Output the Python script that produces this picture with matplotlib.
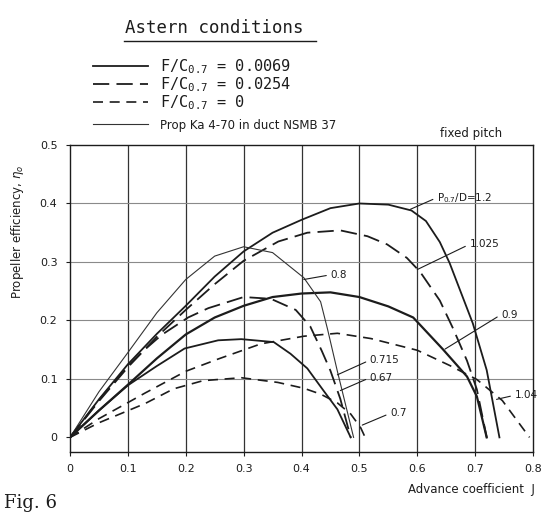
import matplotlib
matplotlib.use("Agg")
import matplotlib.pyplot as plt
from matplotlib.lines import Line2D

# pitch ratio P0.7/D = 1.2 (solid)
j_12 = [0, 0.05, 0.1, 0.15, 0.2, 0.25, 0.3, 0.35, 0.4, 0.45, 0.5, 0.55, 0.59, 0.615, 0.639, 0.656, 0.696, 0.72, 0.742]
eta_12 = [0, 0.065, 0.125, 0.177, 0.225, 0.275, 0.318, 0.35, 0.372, 0.392, 0.40, 0.398, 0.388, 0.37, 0.334, 0.298, 0.195, 0.115, 0.0]

# 1.025 (long dash)
j_1025 = [0, 0.05, 0.1, 0.15, 0.2, 0.25, 0.3, 0.36, 0.41, 0.467, 0.514, 0.548, 0.582, 0.605, 0.639, 0.662, 0.686, 0.703, 0.72]
eta_1025 = [0, 0.062, 0.12, 0.172, 0.218, 0.262, 0.302, 0.335, 0.35, 0.354, 0.344, 0.33, 0.307, 0.283, 0.234, 0.186, 0.131, 0.082, 0.0]

# 0.9 (solid, heavy)
j_09 = [0, 0.05, 0.1, 0.15, 0.2, 0.25, 0.3, 0.35, 0.4, 0.45, 0.5, 0.55, 0.593, 0.644, 0.686, 0.703, 0.72]
eta_09 = [0, 0.046, 0.09, 0.135, 0.176, 0.205, 0.225, 0.24, 0.246, 0.248, 0.24, 0.224, 0.205, 0.151, 0.104, 0.07, 0.0]

# 0.8 (thin)
j_08 = [0, 0.05, 0.1, 0.15, 0.2, 0.25, 0.3, 0.35, 0.404, 0.433, 0.445, 0.462, 0.49]
eta_08 = [0, 0.078, 0.145, 0.213, 0.27, 0.31, 0.326, 0.316, 0.273, 0.232, 0.185, 0.113, 0.0]

# dashed, peak near J = 0.3
j_0715 = [0, 0.05, 0.1, 0.129, 0.158, 0.204, 0.239, 0.3, 0.347, 0.39, 0.415, 0.435, 0.45, 0.467, 0.485]
eta_0715 = [0, 0.064, 0.122, 0.15, 0.175, 0.205, 0.221, 0.24, 0.237, 0.218, 0.19, 0.148, 0.114, 0.066, 0.0]

# lower solid
j_07 = [0, 0.05, 0.1, 0.15, 0.198, 0.256, 0.296, 0.352, 0.381, 0.41, 0.438, 0.462, 0.485]
eta_07 = [0, 0.046, 0.089, 0.122, 0.152, 0.166, 0.168, 0.163, 0.143, 0.118, 0.08, 0.048, 0.0]

# 1.04 (dashed)
j_104 = [0, 0.05, 0.13, 0.2, 0.256, 0.33, 0.404, 0.462, 0.52, 0.6, 0.656, 0.703, 0.747, 0.794]
eta_104 = [0, 0.032, 0.076, 0.113, 0.134, 0.16, 0.173, 0.178, 0.169, 0.149, 0.123, 0.099, 0.063, 0.0]

# 0.67 (dashed, lowest)
j_067 = [0, 0.05, 0.13, 0.179, 0.23, 0.296, 0.359, 0.404, 0.433, 0.462, 0.485, 0.502, 0.51]
eta_067 = [0, 0.025, 0.058, 0.083, 0.097, 0.102, 0.094, 0.084, 0.074, 0.059, 0.04, 0.017, 0.0]

curve_labels = ["P$_{0.7}$/D=1.2", "1.025", "0.8", "0.9", "0.715", "0.67", "0.7", "1.04"]
label_text_pos = [(0.634, 0.41), (0.69, 0.33), (0.45, 0.278), (0.745, 0.21),
                  (0.518, 0.132), (0.518, 0.102), (0.553, 0.041), (0.768, 0.072)]
label_tips = [(0.588, 0.39), (0.60, 0.287), (0.404, 0.27), (0.648, 0.151),
              (0.462, 0.107), (0.467, 0.08), (0.505, 0.021), (0.737, 0.065)]

x_ticks = [0, 0.1, 0.2, 0.3, 0.4, 0.5, 0.6, 0.7, 0.8]
x_tick_labels = ["0", "0.1", "0.2", "0.3", "0.4", "0.5", "0.6", "0.7", "0.8"]
y_ticks = [0, 0.1, 0.2, 0.3, 0.4, 0.5]
y_tick_labels = ["0", "0.1", "0.2", "0.3", "0.4", "0.5"]

legend_labels = ["F/C$_{\\mathtt{0.7}}$ = 0.0069", "F/C$_{\\mathtt{0.7}}$ = 0.0254",
                 "F/C$_{\\mathtt{0.7}}$ = 0"]

W, H = 541, 512
ink = "#1c1c1c"


def fx(px):
    return px / W


def fy(py):
    return 1 - py / H


fig = plt.figure(figsize=(5.41, 5.12), dpi=100)
ax = fig.add_axes([fx(70), fy(452), fx(533) - fx(70), fy(145) - fy(452)])

solid = dict(color=ink, lw=1.3, linestyle="-")
heavy = dict(color=ink, lw=1.6, linestyle="-")
thin = dict(color="#333333", lw=0.8, linestyle="-")
long_dash = dict(color=ink, lw=1.3, linestyle=(0, (9, 4)))
short_dash = dict(color=ink, lw=1.2, linestyle=(0, (6, 4)))

ax.plot(j_12, eta_12, **solid)
ax.plot(j_1025, eta_1025, **long_dash)
ax.plot(j_09, eta_09, **heavy)
ax.plot(j_08, eta_08, **thin)
ax.plot(j_0715, eta_0715, **long_dash)
ax.plot(j_07, eta_07, **solid)
ax.plot(j_104, eta_104, **short_dash)
ax.plot(j_067, eta_067, **short_dash)

for text, pos, tip in zip(curve_labels, label_text_pos, label_tips):
    ax.annotate(text, xy=tip, xytext=pos, fontsize=7.5, color=ink, va="center", ha="left",
                arrowprops=dict(arrowstyle="-", color=ink, lw=0.8, relpos=(0, 0.5),
                                shrinkA=1, shrinkB=0))

ax.set_xlim(0, 0.8)
ax.set_ylim(-0.025, 0.5)
for x in x_ticks[1:-1]:
    ax.axvline(x, color="#333333", lw=0.9, zorder=0)
for y in y_ticks[1:-1]:
    ax.axhline(y, color="#8a8a8a", lw=0.8, zorder=0)

ax.set_xticks(x_ticks)
ax.set_xticklabels(x_tick_labels)
ax.set_yticks(y_ticks)
ax.set_yticklabels(y_tick_labels)
ax.tick_params(labelsize=8, colors=ink, length=3, width=0.8, pad=6)
for side in ax.spines.values():
    side.set_color(ink)
    side.set_linewidth(1.0)

# axis labels
fig.text(fx(18), fy(232), "Propeller efficiency, $\\eta_o$", rotation=90, ha="center", va="center",
         fontsize=8.5, color=ink)
fig.text(fx(535), fy(490), "Advance coefficient  J", ha="right", va="center", fontsize=8.5, color=ink)

# title
fig.text(fx(125), fy(28), "Astern conditions", family="DejaVu Sans Mono", fontsize=12.5,
         ha="left", va="center", color=ink)
fig.add_artist(Line2D([fx(124), fx(316)], [fy(41), fy(41)], color=ink, lw=1.0))

# legend drawn by hand
legend_styles = [solid, long_dash, short_dash]
legend_rows = [66, 84, 102]
for text, style, row in zip(legend_labels, legend_styles, legend_rows):
    fig.add_artist(Line2D([fx(93), fx(148)], [fy(row), fy(row)], **style))
    fig.text(fx(160), fy(row + 1), text, family="DejaVu Sans Mono", fontsize=11,
             ha="left", va="center", color=ink)
fig.add_artist(Line2D([fx(93), fx(148)], [fy(124), fy(124)], **thin))
fig.text(fx(160), fy(126), "Prop Ka 4-70 in duct NSMB 37", fontsize=8.5, ha="left", va="center", color=ink)
fig.text(fx(440), fy(133), "fixed pitch", fontsize=8.5, ha="left", va="center", color=ink)

# caption at the foot of the page
fig.text(fx(4), fy(494), "Fig. 6", family="DejaVu Serif", fontsize=13, ha="left", va="top", color=ink)

fig.savefig("out.png", dpi=100)
